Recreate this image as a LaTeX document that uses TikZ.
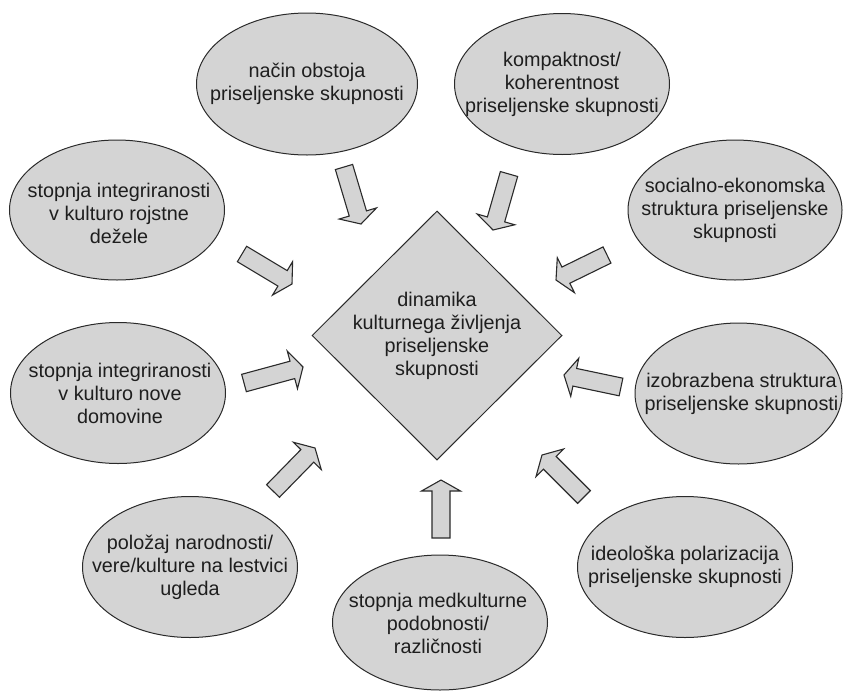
\documentclass[tikz,border=0pt]{standalone}
\usepackage{fontspec}
\setmainfont{Liberation Sans}
\usetikzlibrary{shapes.geometric,calc}
\definecolor{boxgray}{HTML}{D4D4D4}
\definecolor{edgegray}{HTML}{2A2A2A}
\definecolor{txtgray}{HTML}{1E1E1E}
\tikzset{
  bubble/.style={ellipse, fill=boxgray, draw=edgegray, line width=1pt, inner sep=0pt},
  centre/.style={diamond, fill=boxgray, draw=edgegray, line width=1pt, inner sep=0pt, minimum width=250pt, minimum height=249pt},
  label/.style={text=txtgray, align=center, inner sep=0pt, font=\fontsize{19.8}{23}\selectfont},
  blockarrow/.style={fill=boxgray, draw=edgegray, line width=1.1pt, line join=miter}
}
% #1 tail coordinate, #2 tip coordinate
\newcommand{\blockarr}[2]{%
  \draw[blockarrow]
    ($(#1)!9pt!90:(#2)$) --
    ($($(#2)!11pt!(#1)$)!9pt!90:(#2)$) --
    ($($(#2)!11pt!(#1)$)!19.5pt!90:(#2)$) --
    (#2) --
    ($($(#2)!11pt!(#1)$)!19.5pt!-90:(#2)$) --
    ($($(#2)!11pt!(#1)$)!9pt!-90:(#2)$) --
    ($(#1)!9pt!-90:(#2)$) -- cycle;}
\begin{document}
\begin{tikzpicture}[x=1pt,y=-1pt]
\useasboundingbox (0,0) rectangle (843,691);
% ellipses
\node[bubble, minimum width=221pt, minimum height=142pt] (e1) at (307,84) {};
\node[label] (t1) at (e1.center) {način obstoja\\priseljenske skupnosti};
\node[bubble, minimum width=215pt, minimum height=141pt] (e2) at (562,84) {};
\node[label] (t2) at (e2.center) {kompaktnost/\\koherentnost\\priseljenske skupnosti};
\node[bubble, minimum width=215pt, minimum height=140pt] (e3) at (117,210) {};
\node[label] (t3) at ($(e3.center)+(2,3)$) {stopnja integriranosti\\v kulturo rojstne\\dežele};
\node[bubble, minimum width=215pt, minimum height=141pt] (e4) at (118,393) {};
\node[label] (t4) at ($(e4.center)+(2,0)$) {stopnja integriranosti\\v kulturo nove\\domovine};
\node[bubble, minimum width=214pt, minimum height=140pt] (e5) at (735,210) {};
\node[label] (t5) at (e5.center) {socialno-ekonomska\\struktura priseljenske\\skupnosti};
\node[bubble, minimum width=207pt, minimum height=141pt] (e6) at (738.5,393.5) {};
\node[label] (t6) at ($(e6.center)+(3,0)$) {izobrazbena struktura\\priseljenske skupnosti};
\node[bubble, minimum width=215pt, minimum height=141pt] (e7) at (190,567) {};
\node[label] (t7) at (e7.center) {položaj narodnosti/\\vere/kulture na lestvici\\ugleda};
\node[bubble, minimum width=215pt, minimum height=135pt] (e8) at (440,622.5) {};
\node[label] (t8) at ($(e8.center)+(-2,1)$) {stopnja medkulturne\\podobnosti/\\različnosti};
\node[bubble, minimum width=215pt, minimum height=141pt] (e9) at (685,567) {};
\node[label] (t9) at (e9.center) {ideološka polarizacija\\priseljenske skupnosti};
% centre
\node[centre] (c) at (437,335.5) {};
\node[label] (ct) at ($(c.center)+(0,0)$) {dinamika\\kulturnega življenja\\priseljenske\\skupnosti};
% arrows: tails and tips
\coordinate (a1s) at (344,167); \coordinate (a1e) at (361,224);
\coordinate (a2s) at (509,174); \coordinate (a2e) at (493,230);
\coordinate (a3s) at (242,254); \coordinate (a3e) at (292,284);
\coordinate (a4s) at (244,383); \coordinate (a4e) at (303,367);
\coordinate (a5s) at (607,255); \coordinate (a5e) at (556,280);
\coordinate (a6s) at (621,387); \coordinate (a6e) at (564,375);
\coordinate (a7s) at (273,491); \coordinate (a7e) at (315,448);
\coordinate (a8s) at (441,538); \coordinate (a8e) at (441,480);
\coordinate (a9s) at (584,497); \coordinate (a9e) at (542,455);
\blockarr{a1s}{a1e}
\blockarr{a2s}{a2e}
\blockarr{a3s}{a3e}
\blockarr{a4s}{a4e}
\blockarr{a5s}{a5e}
\blockarr{a6s}{a6e}
\blockarr{a7s}{a7e}
\blockarr{a8s}{a8e}
\blockarr{a9s}{a9e}
\end{tikzpicture}
\end{document}
